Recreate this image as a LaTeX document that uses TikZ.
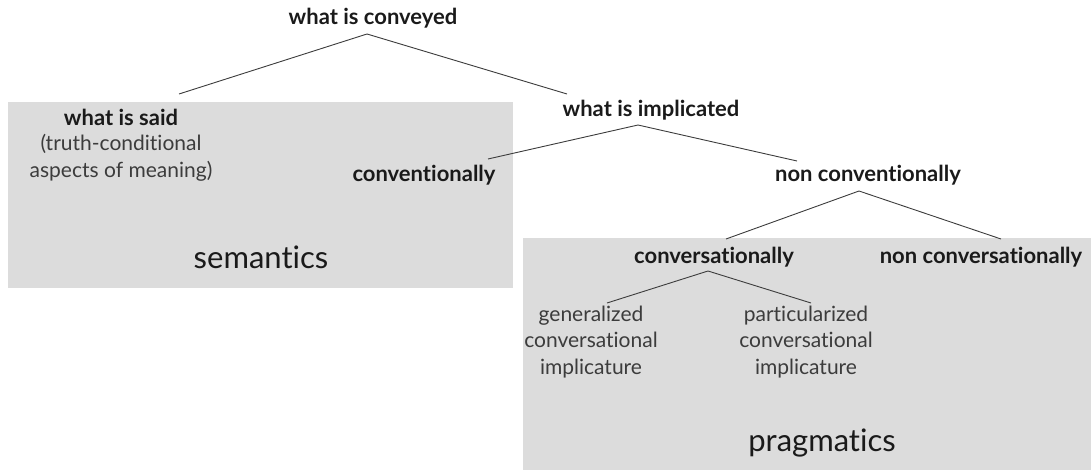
\documentclass[tikz,border=0pt]{standalone}
\usepackage{fontspec}
\setmainfont{Lato}[Ligatures=NoCommon]
\begin{document}
\begin{tikzpicture}[x=1pt,y=-1pt,
  region/.style={fill=boxgray,draw=none},
  head/.style={font=\fontsize{22}{26}\selectfont\bfseries,text=ink,inner sep=0pt},
  leaf/.style={font=\fontsize{21}{26.5}\selectfont,text=ink!85,inner sep=0pt,align=center},
  area/.style={font=\fontsize{31}{36}\selectfont,text=ink,inner sep=0pt},
  branch/.style={draw=ink!85,line width=0.9pt}]
\definecolor{boxgray}{HTML}{DCDCDC}
\definecolor{ink}{HTML}{1A1A1A}
\useasboundingbox (0,0) rectangle (1091,470);

% shaded regions
\fill[region] (8,102) rectangle (513,288);
\fill[region] (523,238) rectangle (1091,470);

% labels
\node[head] (conveyed) at (373,18) {what is conveyed};
\node[head] (said) at (121,117) {what is said};
\node[leaf] (truth) at (121,158) {(truth-conditional\\aspects of meaning)};
\node[head] (implicated) at (651,110) {what is implicated};
\node[head] (conv) at (424,175) {conventionally};
\node[head] (nonconv) at (868,175) {non conventionally};
\node[head] (convers) at (714,257) {conversationally};
\node[head] (nonconvers) at (981,257) {non conversationally};
\node[leaf] (gen) at (591,342) {generalized\\conversational\\implicature};
\node[leaf] (part) at (806,342) {particularized\\conversational\\implicature};
\node[area] (sem) at (261,257) {semantics};
\node[area] (prag) at (822,443) {pragmatics};

% branching points
\coordinate (conveyed-b) at (367,34);
\coordinate (said-t) at (179,94);
\coordinate (implicated-t) at (567,94);
\coordinate (implicated-b) at (638,125);
\coordinate (conv-t) at (488,159);
\coordinate (nonconv-t) at (797,161);
\coordinate (nonconv-b) at (859,191);
\coordinate (convers-t) at (726,239);
\coordinate (nonconvers-t) at (1001,239);
\coordinate (convers-b) at (708,271);
\coordinate (gen-t) at (607,303);
\coordinate (part-t) at (811,303);

% tree branches
\draw[branch] (said-t) -- (conveyed-b) -- (implicated-t);
\draw[branch] (conv-t) -- (implicated-b) -- (nonconv-t);
\draw[branch] (convers-t) -- (nonconv-b) -- (nonconvers-t);
\draw[branch] (gen-t) -- (convers-b) -- (part-t);
\end{tikzpicture}
\end{document}
